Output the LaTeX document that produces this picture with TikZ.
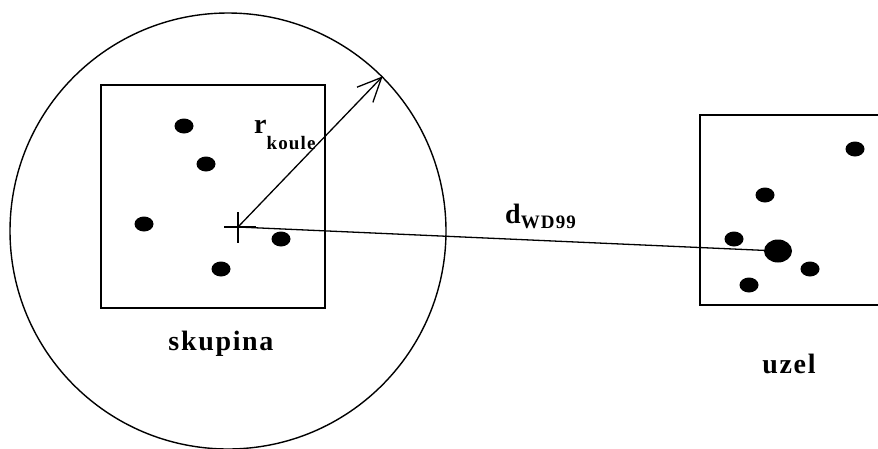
\documentclass[tikz,border=0pt]{standalone}
\usepackage{fontspec}
\setmainfont[LetterSpace=6]{Liberation Serif}
\usepackage{tikz}
\usetikzlibrary{shapes.geometric,arrows.meta,positioning,calc}

\begin{document}
\begin{tikzpicture}[x=1pt, y=-1pt,
    dot/.style={ellipse, fill=black, inner sep=0pt, minimum width=19pt, minimum height=15pt},
    bigdot/.style={ellipse, fill=black, inner sep=0pt, minimum width=28pt, minimum height=23pt},
    box/.style={draw, line width=1.6pt, inner sep=0pt},
    lbl/.style={font=\fontsize{28}{28}\selectfont\bfseries, inner sep=0pt, anchor=base},
    arr/.style={line width=1.3pt, -{Straight Barb[length=24pt, width=22pt, line width=1.3pt]}}]

    \useasboundingbox (0,0) rectangle (878,448);

    % Cluster
    \node[box, minimum width=224pt, minimum height=223pt] (skbox) at (213,196.5) {};
    \node[circle, draw, line width=1.4pt, minimum size=436pt, inner sep=0pt] (koule) at (228,231) {};
    \foreach \p [count=\k] in {(184,126),(206,164),(144,224),(281,239),(221,269)}
        \node[dot] (s\k) at \p {};

    % Centre mark
    \coordinate (ctr) at (238,227);
    \draw[line width=1.3pt] ($(ctr)+(0,-15)$) -- ($(ctr)+(0,16)$);
    \draw[line width=1.3pt] ($(ctr)+(-14,0)$) -- ($(ctr)+(18,0)$);

    % Node
    \node[box, minimum width=190pt, minimum height=190pt] (uzbox) at (795,210) {};
    \foreach \p [count=\k] in {(855,149),(765,195),(734,239),(810,269),(749,285)}
        \node[dot] (u\k) at \p {};
    \node[bigdot] (uz) at (778,251) {};

    % Radius and distance
    \draw[arr] (ctr) -- (koule.45);
    \draw[line width=1.3pt] (ctr) -- (uz);

    % Labels
    \node[lbl, anchor=base west] (rk) at (254,133)
        {r\raisebox{-16pt}{\fontsize{19}{19}\selectfont koule}};
    \node[lbl, anchor=base west] (dw) at (505,223)
        {d\raisebox{-5pt}{\fontsize{19}{19}\selectfont WD99}};
    \node[lbl] (skl) at (221,350) {skupina};
    \node[lbl] (uzl) at (789,373) {uzel};
\end{tikzpicture}
\end{document}
